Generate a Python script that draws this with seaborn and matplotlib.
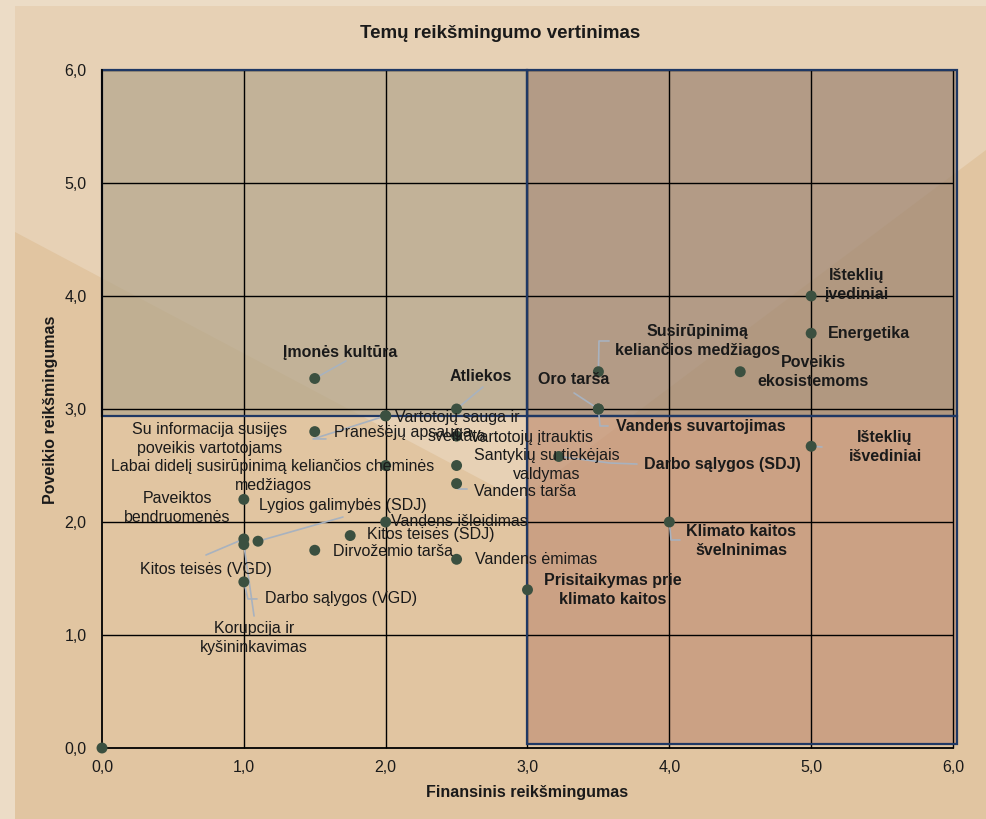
import matplotlib
matplotlib.use("Agg")
import matplotlib.pyplot as plt
import seaborn as sns
import pandas as pd
from matplotlib.patches import Rectangle, Polygon

# ---------------- data ----------------
topics = [
    "Įmonės kultūra", "Atliekos", "Vartotojų sauga ir\nsveikata", "Pranešėjų apsauga",
    "Su informacija susijęs\npoveikis vartotojams", "Vartotojų įtrauktis",
    "Labai didelį susirūpinimą keliančios cheminės\nmedžiagos",
    "Santykių su tiekėjais\nvaldymas", "Vandens tarša", "Paveiktos\nbendruomenės",
    "Lygios galimybės (SDJ)", "Vandens išleidimas", "Kitos teisės (SDJ)", "Dirvožemio tarša",
    "Vandens ėmimas", "Kitos teisės (VGD)", "Korupcija ir\nkyšininkavimas", "Darbo sąlygos (VGD)",
    "Prisitaikymas prie\nklimato kaitos", "Klimato kaitos\nšvelninimas", "Darbo sąlygos (SDJ)",
    "Išteklių\nišvediniai", "Vandens suvartojimas", "Oro tarša",
    "Susirūpinimą\nkeliančios medžiagos", "Poveikis\nekosistemoms", "Energetika",
    "Išteklių\nįvediniai", "",
]
financial = [1.5, 2.5, 2.0, 2.0, 1.5, 2.5, 2.0, 2.5, 2.5, 1.0, 1.1, 2.0, 1.75, 1.5,
             2.5, 1.0, 1.0, 1.0, 3.0, 4.0, 3.22, 5.0, 3.5, 3.5, 3.5, 4.5, 5.0, 5.0, 0.0]
impact = [3.27, 3.0, 2.94, 2.94, 2.8, 2.76, 2.5, 2.5, 2.34, 2.2, 1.83, 2.0, 1.88, 1.75,
          1.67, 1.85, 1.8, 1.47, 1.4, 2.0, 2.58, 2.67, 3.0, 3.0, 3.33, 3.33, 3.67, 4.0, 0.0]
tick_values = [0, 1, 2, 3, 4, 5, 6]
tick_labels = ["0,0", "1,0", "2,0", "3,0", "4,0", "5,0", "6,0"]
threshold = 3.0

# ---------------- layout (label centres & leader waypoints, data units) ----------------
label_xy = [
    (1.678, 3.504), (2.672, 3.292), (2.503, 2.841), (2.122, 2.796), (0.761, 2.735),
    (3.025, 2.752), (1.206, 2.407), (3.138, 2.504), (2.982, 2.274), (0.529, 2.124),
    (1.699, 2.142), (2.517, 2.0), (2.320, 1.885), (2.052, 1.735), (3.060, 1.664),
    (0.733, 1.584), (1.072, 0.973), (1.685, 1.319), (3.603, 1.398), (4.505, 1.832),
    (4.371, 2.513), (5.521, 2.664), (4.223, 2.841), (3.328, 3.257), (4.202, 3.602),
    (5.013, 3.327), (5.408, 3.664), (5.323, 4.097), (0.0, 0.0),
]
leaders = {
    0: [(1.720, 3.425)],
    1: [(2.686, 3.195)],
    3: [(1.488, 2.735), (1.579, 2.735)],
    8: [(2.510, 2.292), (2.574, 2.292)],
    10: [(1.699, 2.044)],
    15: [(0.733, 1.708)],
    16: [(1.072, 1.168)],
    17: [(1.029, 1.319), (1.093, 1.319)],
    19: [(4.012, 1.841), (4.075, 1.841)],
    20: [(3.582, 2.522), (3.772, 2.513)],
    21: [(5.076, 2.664)],
    22: [(3.511, 2.850), (3.568, 2.850)],
    23: [(3.328, 3.142)],
    24: [(3.504, 3.602), (3.575, 3.602)],
}

df = pd.DataFrame({"topic": topics, "fin": financial, "imp": impact})

# ---------------- style ----------------
sns.set_style("white")
plt.rcParams["font.family"] = ["Liberation Sans", "DejaVu Sans"]

W, H = 987, 819
fig = plt.figure(figsize=(W / 100, H / 100), dpi=100)
fig.patch.set_facecolor("#ecdcc6")

def fpx(px, py):
    return (px / W, 1 - py / H)

# panel + decorative light wedge
fig.patches.append(Rectangle(fpx(15, 819), (986 - 15) / W, (819 - 6) / H,
                             transform=fig.transFigure, facecolor="#e1c5a1",
                             edgecolor="none", zorder=-10))
fig.patches.append(Polygon([fpx(15, 6), fpx(986, 6), fpx(986, 150), fpx(520, 500), fpx(15, 232)],
                           closed=True, transform=fig.transFigure, facecolor="#e7d1b5",
                           edgecolor="none", zorder=-9))

ax = fig.add_axes([102 / W, 1 - 748 / H, (953 - 102) / W, (748 - 70) / H])
ax.set_facecolor("none")
ax.set_xlim(0, 6)
ax.set_ylim(0, 6)

# quadrant fills (semi-transparent over background)
yb = 2.94
x_right = 6.03
fills = [
    ((0, yb), threshold, 6 - yb, "#b4a78d"),
    ((threshold, yb), x_right - threshold, 6 - yb, "#9f8774"),
    ((threshold, 0.035), x_right - threshold, yb - 0.035, "#c39479"),
]
for (xy, w, h, c) in fills:
    ax.add_patch(Rectangle(xy, w, h, facecolor=c, alpha=0.72, edgecolor="none",
                           zorder=0.6, clip_on=False))

# grid lines
for t in tick_values[1:]:
    ax.plot([0, 6], [t, t], color="black", lw=1.0, zorder=1.0, clip_on=False, solid_capstyle="butt")
    ax.plot([t, t], [0, 6], color="black", lw=1.0, zorder=1.0, clip_on=False, solid_capstyle="butt")

# blue borders
for (xy, w, h, c) in fills:
    ax.add_patch(Rectangle(xy, w, h, facecolor="none", edgecolor="#1f3864", lw=1.6,
                           zorder=1.5, clip_on=False))

# leader lines
for i, pts in leaders.items():
    xs = [financial[i]] + [p[0] for p in pts]
    ys = [impact[i]] + [p[1] for p in pts]
    ax.plot(xs, ys, color="#a8b2bf", lw=1.2, zorder=2, clip_on=False)

sns.scatterplot(data=df, x="fin", y="imp", ax=ax, color="#3b5040", s=62,
                edgecolor="none", zorder=3, clip_on=False, legend=False)

# labels
for i, t in enumerate(topics):
    if not t:
        continue
    bold = financial[i] >= threshold or impact[i] >= threshold
    lx, ly = label_xy[i]
    ax.text(lx, ly, t, ha="center", va="center", fontsize=11.5,
            fontweight="bold" if bold else "normal", color="#1a1a1a",
            linespacing=1.32, zorder=4)

# axes
for s in ["top", "right"]:
    ax.spines[s].set_visible(False)
for s in ["left", "bottom"]:
    ax.spines[s].set_color("black")
    ax.spines[s].set_linewidth(1.3)
    ax.spines[s].set_zorder(2.5)
ax.set_xticks(tick_values)
ax.set_xticklabels(tick_labels)
ax.set_yticks(tick_values)
ax.set_yticklabels(tick_labels)
ax.tick_params(axis="x", length=0, pad=9, labelsize=11.5, colors="#1a1a1a")
ax.tick_params(axis="y", length=0, pad=11, labelsize=11.5, colors="#1a1a1a")
ax.set_xlabel("")
ax.set_ylabel("")

fig.text(*fpx(500, 33), "Temų reikšmingumo vertinimas", ha="center", va="center",
         fontsize=13.5, fontweight="bold", color="#1a1a1a")
fig.text(*fpx(527, 793), "Finansinis reikšmingumas", ha="center", va="center",
         fontsize=11.5, fontweight="bold", color="#1a1a1a")
fig.text(*fpx(51, 410), "Poveikio reikšmingumas", ha="center", va="center", rotation=90,
         fontsize=11.5, fontweight="bold", color="#1a1a1a")

fig.savefig("out.png", dpi=100, facecolor=fig.get_facecolor())
